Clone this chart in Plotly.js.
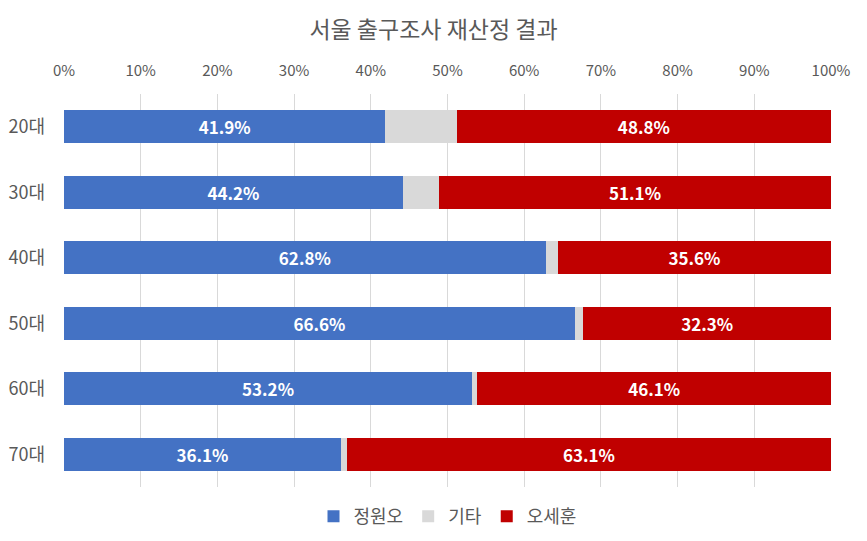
<!DOCTYPE html>
<html>
<head>
<meta charset="utf-8">
<script src="https://cdn.plot.ly/plotly-3.0.1.min.js"></script>
<style>
  html, body { margin: 0; padding: 0; background: #fff; }
  #chart { width: 867px; height: 541px; }
</style>
</head>
<body>
<div id="chart"></div>
<script>
// 연령대별 재산정 결과 (%)
var ages = ['20대', '30대', '40대', '50대', '60대', '70대'];
var jung = [41.9, 44.2, 62.8, 66.6, 53.2, 36.1];
var etc = [9.3, 4.7, 1.6, 1.1, 0.7, 0.8];
var oh = [48.8, 51.1, 35.6, 32.3, 46.1, 63.1];

var font = '"Noto Sans CJK KR", "Noto Sans", sans-serif';

function label(vals)
{
	return vals.map(function(v) { return v.toFixed(1) + '%'; });
}

var traces = [
	{
		name: '정원오', type: 'bar', orientation: 'h',
		x: jung, y: ages,
		marker: { color: '#4472C4' },
		text: label(jung), textposition: 'inside', insidetextanchor: 'middle',
		textfont: { color: '#ffffff', size: 17, family: font, weight: 'bold' },
		hoverinfo: 'none'
	},
	{
		name: '기타', type: 'bar', orientation: 'h',
		x: etc, y: ages,
		marker: { color: '#D9D9D9' },
		hoverinfo: 'none'
	},
	{
		name: '오세훈', type: 'bar', orientation: 'h',
		x: oh, y: ages,
		marker: { color: '#C00000' },
		text: label(oh), textposition: 'inside', insidetextanchor: 'middle',
		textfont: { color: '#ffffff', size: 17, family: font, weight: 'bold' },
		hoverinfo: 'none'
	}
];

var layout = {
	width: 867, height: 541,
	margin: { l: 64, r: 36, t: 94, b: 54 },
	barmode: 'stack',
	bargap: 0.5,
	paper_bgcolor: '#ffffff',
	plot_bgcolor: '#ffffff',
	font: { family: font, color: '#595959' },
	title: {
		text: '서울 출구조사 재산정 결과',
		font: { size: 23, color: '#595959', family: font },
		x: 0.5, xanchor: 'center', y: 0.945, yanchor: 'middle'
	},
	xaxis: {
		side: 'top',
		range: [0, 100],
		dtick: 10,
		ticksuffix: '%',
		showgrid: true,
		gridcolor: '#D9D9D9',
		zeroline: false,
		showline: false,
		ticks: '',
		ticklabelstandoff: 14,
		tickfont: { size: 15, color: '#595959' },
		fixedrange: true
	},
	yaxis: {
		autorange: 'reversed',
		showgrid: false,
		zeroline: false,
		showline: false,
		ticks: '',
		ticklabelstandoff: 18,
		tickfont: { size: 18, color: '#595959' },
		fixedrange: true
	},
	showlegend: true,
	legend: {
		orientation: 'h',
		x: 0.5, xanchor: 'center',
		yref: 'container',
		y: 0.045, yanchor: 'middle',
		itemwidth: 30,
		font: { size: 18, color: '#595959' },
		traceorder: 'normal'
	}
};

Plotly.newPlot('chart', traces, layout, { displayModeBar: false, staticPlot: true });
</script>
</body>
</html>
